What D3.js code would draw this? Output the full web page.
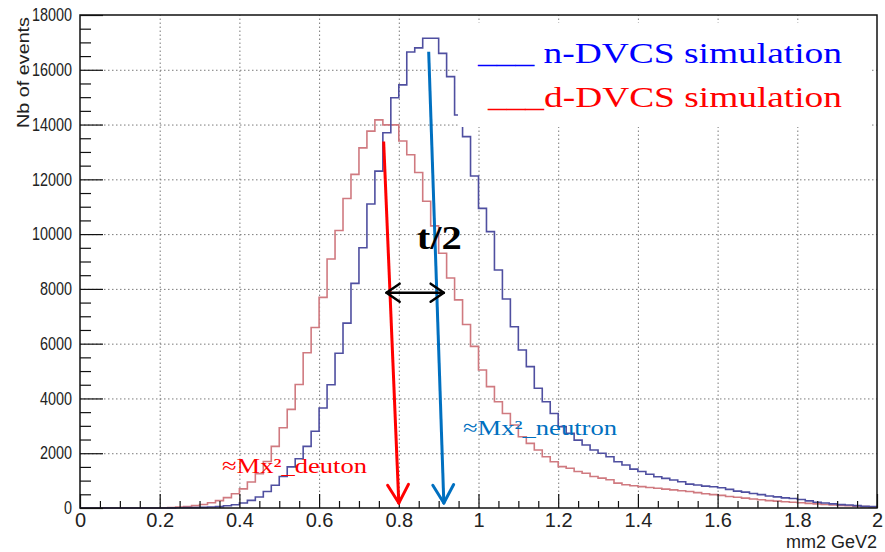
<!DOCTYPE html>
<meta charset="utf-8">
<style>
body { margin: 0; background: #fff; }
.grid line { stroke: #7a7a7a; stroke-dasharray: 1.5,2.5; }
.grid path, .axis path { display: none; }
.axis line { stroke: #111; stroke-width: 1.2; }
.axis text { fill: #222; font-family: "Liberation Sans", Arial, sans-serif; }
.serif { font-family: "Liberation Serif", "Times New Roman", serif; }
</style>

<script src="https://d3js.org/d3.v7.min.js"></script>

<div id="chart"></div>

<script>
// histogram binning: 100 bins of 0.02 GeV2 between 0 and 2
var binWidth = 0.02;
var binLow = d3.range(100).map(function(i) { return +(i * binWidth).toFixed(2); });

// n-DVCS simulation (blue), one value per bin
var nDVCS = [
  0, 0, 0, 0, 0, 0, 0, 0, 0, 0,
  0, 5, 8, 12, 15, 22, 35, 50, 80, 120,
  180, 280, 400, 600, 830, 1150, 1500, 1800, 2250, 2800,
  3650, 4500, 5650, 6750, 8200, 9500, 11100, 12300, 13700, 14980,
  15450, 16650, 16800, 17150, 17150, 16600, 15750, 14350, 13560, 12120,
  10940, 10090, 8690, 7630, 6620, 5770, 5160, 4370, 3880, 3450,
  2970, 2730, 2480, 2300, 2120, 2000, 1870, 1690, 1570, 1420,
  1330, 1230, 1140, 1080, 1020, 960, 870, 840, 800, 775,
  740, 680, 615, 580, 530, 490, 440, 405, 370, 345,
  310, 260, 210, 185, 150, 125, 110, 85, 60, 50
];

// d-DVCS simulation (red)
var dDVCS = [
  0, 0, 0, 0, 0, 0, 0, 0, 0, 0,
  8, 20, 35, 55, 85, 130, 190, 270, 380, 520,
  700, 950, 1250, 1700, 2250, 2930, 3600, 4510, 5670, 6590,
  7690, 9090, 10130, 11300, 12180, 13150, 13760, 14170, 13990, 13990,
  13400, 12900, 12250, 11200, 10300, 9300, 8400, 7600, 6700, 5900,
  5040, 4430, 3880, 3450, 3030, 2600, 2360, 2120, 1870, 1690,
  1510, 1450, 1330, 1270, 1150, 1090, 1030, 910, 850, 815,
  780, 750, 720, 690, 660, 630, 600, 560, 520, 490,
  460, 420, 390, 360, 330, 300, 270, 250, 230, 210,
  190, 170, 150, 130, 110, 95, 80, 65, 50, 40
];

var xTicks = [0, 0.2, 0.4, 0.6, 0.8, 1, 1.2, 1.4, 1.6, 1.8, 2];
var yTicks = [0, 2000, 4000, 6000, 8000, 10000, 12000, 14000, 16000, 18000];

// annotation arrows, in data coordinates [x, events]
var redArrow = [[0.762, 13380], [0.8, 180]];
var blueArrow = [[0.875, 16660], [0.913, 180]];
var halfT = [[0.769, 7860], [0.913, 7860]];

var margin = {top: 15, left: 80},
    width = 797,
    height = 493;

var svg = d3.select("#chart")
  .append("svg")
    .attr("width", 885)
    .attr("height", 552)
  .append("g")
    .attr("transform", "translate(" + margin.left + "," + margin.top + ")");

var x = d3.scaleLinear().domain([0, 2]).range([0, width]);
var y = d3.scaleLinear().domain([0, 18000]).range([height, 0]);

// dotted grid
svg.append("g")
    .attr("class", "grid")
    .attr("transform", "translate(0," + height + ")")
    .call(d3.axisBottom(x).tickValues(xTicks.slice(1, -1)).tickSize(-height).tickFormat(""));
svg.append("g")
    .attr("class", "grid")
    .call(d3.axisLeft(y).tickValues(yTicks.slice(1, -1)).tickSize(-width).tickFormat(""));

// histograms drawn as steps
function steps(vals) {
  var pts = [[0, 0]];
  vals.forEach(function(v, i) {
    pts.push([binLow[i], v]);
    pts.push([binLow[i] + binWidth, v]);
  });
  pts.push([2, 0]);
  return pts;
}
var line = d3.line()
    .x(function(d) { return x(d[0]); })
    .y(function(d) { return y(d[1]); });

svg.append("path")
    .attr("d", line(steps(dDVCS)))
    .attr("fill", "none")
    .attr("stroke", "#d07a80")
    .attr("stroke-width", 1.6);
svg.append("path")
    .attr("d", line(steps(nDVCS)))
    .attr("fill", "none")
    .attr("stroke", "#4f4fa0")
    .attr("stroke-width", 1.6);

// white legend box pasted over the plot
svg.append("rect")
    .attr("x", 378).attr("y", 8)
    .attr("width", 414).attr("height", 104)
    .attr("fill", "#fff");

svg.append("text")
    .attr("class", "serif")
    .attr("x", 398).attr("y", 48)
    .attr("textLength", 364).attr("lengthAdjust", "spacingAndGlyphs")
    .style("font-size", "29px")
    .attr("fill", "#0000ff")
    .text("___ n-DVCS simulation");
svg.append("text")
    .attr("class", "serif")
    .attr("x", 408).attr("y", 92)
    .attr("textLength", 354).attr("lengthAdjust", "spacingAndGlyphs")
    .style("font-size", "29px")
    .attr("fill", "#ff0000")
    .text("___d-DVCS simulation");

// frame
svg.append("rect")
    .attr("width", width).attr("height", height)
    .attr("fill", "none")
    .attr("stroke", "#111")
    .attr("stroke-width", 1.5);

// axes, ticks pointing inside like ROOT
var xMinor = d3.range(0, 41).map(function(i) { return i * 0.05; })
    .filter(function(d, i) { return i % 4 != 0; });
var yMinor = d3.range(0, 37).map(function(i) { return i * 500; })
    .filter(function(d, i) { return i % 4 != 0; });

svg.append("g")
    .attr("class", "axis")
    .attr("transform", "translate(0," + height + ")")
    .call(d3.axisBottom(x).tickValues(xMinor).tickSizeInner(-7).tickSizeOuter(0).tickFormat(""));
svg.append("g")
    .attr("class", "axis")
    .attr("transform", "translate(0," + height + ")")
    .call(d3.axisBottom(x).tickValues(xTicks).tickSizeInner(-14).tickSizeOuter(0).tickPadding(5)
      .tickFormat(function(d) { return +d.toFixed(1); }))
    .selectAll("text")
    .style("font-size", "20px");

svg.append("g")
    .attr("class", "axis")
    .call(d3.axisLeft(y).tickValues(yMinor).tickSizeInner(-11).tickSizeOuter(0).tickFormat(""));
svg.append("g")
    .attr("class", "axis")
    .call(d3.axisLeft(y).tickValues(yTicks).tickSizeInner(-23).tickSizeOuter(0).tickPadding(10)
      .tickFormat(d3.format("d")))
    .selectAll("text")
    .style("font-size", "18px")
    .attr("transform", "scale(0.8,1)");

// axis titles
svg.append("text")
    .attr("x", width).attr("y", 533)
    .attr("text-anchor", "end")
    .style("font-family", "Liberation Sans, Arial, sans-serif")
    .style("font-size", "18px")
    .attr("fill", "#222")
    .text("mm2 GeV2");
svg.append("text")
    .attr("transform", "translate(-51,2) rotate(-90)")
    .attr("text-anchor", "end")
    .attr("textLength", 111).attr("lengthAdjust", "spacingAndGlyphs")
    .style("font-family", "Liberation Sans, Arial, sans-serif")
    .style("font-size", "16px")
    .attr("fill", "#222")
    .text("Nb of events");

// arrows
function arrowHead(g, from, to, len, ang, color, w) {
  var x1 = x(from[0]), y1 = y(from[1]), x2 = x(to[0]), y2 = y(to[1]);
  var a = Math.atan2(y1 - y2, x1 - x2);
  [ang, -ang].forEach(function(s) {
    g.append("line")
        .attr("x1", x2).attr("y1", y2)
        .attr("x2", x2 + len * Math.cos(a + s)).attr("y2", y2 + len * Math.sin(a + s))
        .attr("stroke", color).attr("stroke-width", w).attr("stroke-linecap", "round");
  });
}
function arrow(pts, color, w, both) {
  var g = svg.append("g");
  g.append("line")
      .attr("x1", x(pts[0][0])).attr("y1", y(pts[0][1]))
      .attr("x2", x(pts[1][0])).attr("y2", y(pts[1][1]))
      .attr("stroke", color).attr("stroke-width", w);
  if (both) {
    arrowHead(g, pts[0], pts[1], 16, 0.6, color, w);
    arrowHead(g, pts[1], pts[0], 16, 0.6, color, w);
  } else {
    arrowHead(g, pts[0], pts[1], 21, 0.52, color, w);
  }
}
arrow(redArrow, "#ff0000", 3, false);
arrow(blueArrow, "#0070c0", 3, false);
arrow(halfT, "#000", 2.5, true);

// annotation texts
svg.append("text")
    .attr("class", "serif")
    .attr("x", x(0.845)).attr("y", 234)
    .attr("textLength", 45).attr("lengthAdjust", "spacingAndGlyphs")
    .style("font-size", "34px").style("font-weight", "bold")
    .attr("fill", "#000")
    .text("t/2");
svg.append("text")
    .attr("class", "serif")
    .attr("x", 142).attr("y", 458)
    .attr("textLength", 145).attr("lengthAdjust", "spacingAndGlyphs")
    .style("font-size", "22px")
    .attr("fill", "#ff0000")
    .text("≈Mx²_deuton");
svg.append("text")
    .attr("class", "serif")
    .attr("x", 383).attr("y", 420)
    .attr("textLength", 154).attr("lengthAdjust", "spacingAndGlyphs")
    .style("font-size", "22px")
    .attr("fill", "#0070c0")
    .text("≈Mx²_neutron");
</script>
